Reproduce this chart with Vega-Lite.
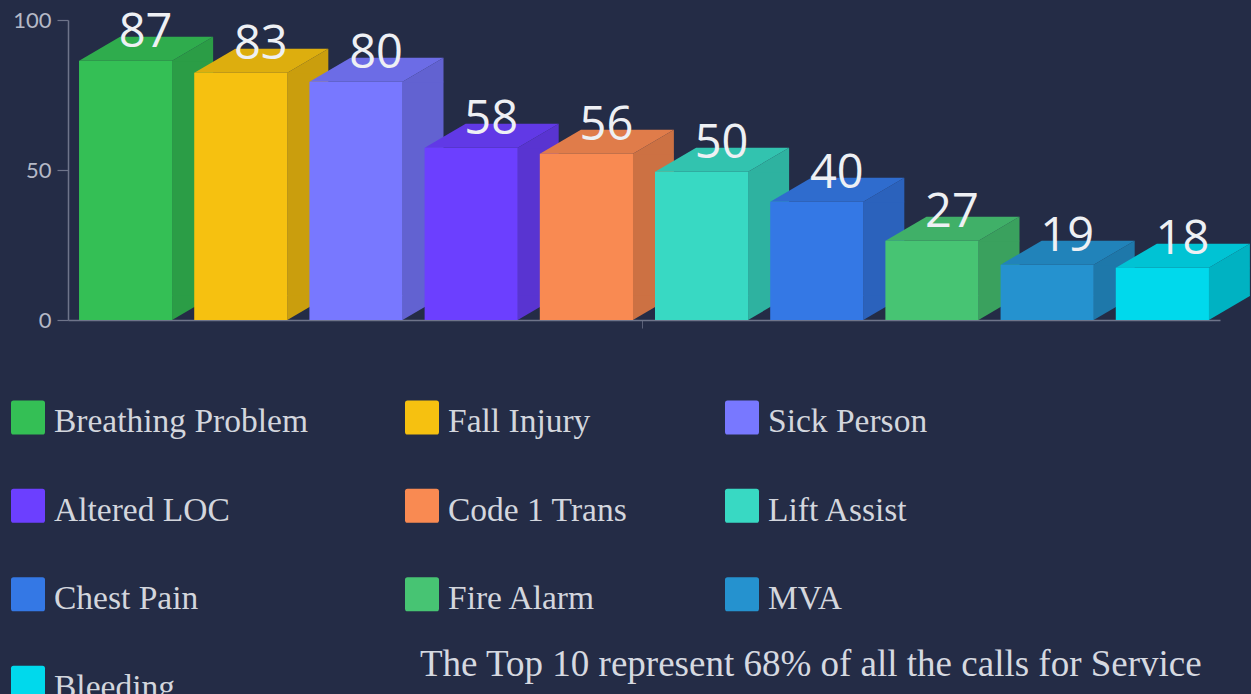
{
"$schema":"https://vega.github.io/schema/vega-lite/v6.json",
"width":1152,"height":300,
"autosize":"none",
"padding":{"left":68,"top":20,"right":31,"bottom":374},
"background":"#242c46",
"view":{"stroke":null},
"title":{"text":"The Top 10 represent 68% of all the calls for Service","orient":"top","anchor":"start","frame":"group","dx":352,"dy":675,"offset":0,"font":"Liberation Serif","fontSize":37,"fontWeight":"normal","color":"#d6d9e0"},
"data":{"values":[
{"name":"Breathing Problem","calls":87},
{"name":"Fall Injury","calls":83},
{"name":"Sick Person","calls":80},
{"name":"Altered LOC","calls":58},
{"name":"Code 1 Trans","calls":56},
{"name":"Lift Assist","calls":50},
{"name":"Chest Pain","calls":40},
{"name":"Fire Alarm","calls":27},
{"name":"MVA","calls":19},
{"name":"Bleeding","calls":18}
]},
"encoding":{
"x":{"field":"name","type":"nominal","sort":null,"title":null,"scale":{"paddingInner":0.191,"paddingOuter":0.0957},
"axis":{"values":["Lift Assist"],"labels":false,"tickOffset":-60,"tickSize":8,"tickColor":"#5a6078","domainColor":"#6e748a","domainWidth":1.5,"grid":false}},
"y":{"field":"calls","type":"quantitative","title":null,"scale":{"domain":[0,100],"nice":false},
"axis":{"values":[0,50,100],"grid":false,"domainColor":"#6e748a","domainWidth":1.5,"tickColor":"#6e748a","tickSize":11,"tickWidth":1.2,"labelFont":"Lato","labelFontSize":22,"labelColor":"#b5b9c6","labelPadding":6}}
},
"layer":[
{"mark":{"type":"bar","size":41,"xOffset":67,"yOffset":1.7,"y2Offset":-24},
"encoding":{"y2":{"datum":0},"color":{"field":"name","type":"nominal","sort":null,"legend":null,"scale":{"range":["#2b9d46","#ca9e0d","#6262d1","#5934d1","#cc7143","#2eb2a0","#2b62bc","#3aa15e","#1e78aa","#00b2c2"]}}}},
{"mark":{"type":"point","shape":"M46.5,2.2L46.5,1.7L87.5,-22.3L87.5,2.2Z","size":4,"filled":true,"opacity":1},
"encoding":{"color":{"field":"name","type":"nominal","sort":null,"legend":null,"scale":{"range":["#2b9d46","#ca9e0d","#6262d1","#5934d1","#cc7143","#2eb2a0","#2b62bc","#3aa15e","#1e78aa","#00b2c2"]}}}},
{"mark":{"type":"point","shape":"M46.5,0L87.5,-24L87.5,-24.5L46.5,-24.5Z","size":4,"filled":true,"opacity":1},
"encoding":{"y":{"datum":0},"color":{"field":"name","type":"nominal","sort":null,"legend":null,"scale":{"range":["#2b9d46","#ca9e0d","#6262d1","#5934d1","#cc7143","#2eb2a0","#2b62bc","#3aa15e","#1e78aa","#00b2c2"]}}}},
{"mark":{"type":"point","shape":"M-46.5,1.7L46.5,1.7L87.5,-22.3L-5.5,-22.3Z","size":4,"filled":true,"opacity":1},
"encoding":{"color":{"field":"name","type":"nominal","sort":null,"legend":null,"scale":{"range":["#2fac4d","#ddae0e","#6c6ce6","#6139e6","#e07c4a","#32c3af","#2f6cce","#40b068","#2183ba","#00c3d4"]}}}},
{"mark":{"type":"bar","yOffset":1.7,"y2Offset":0},
"encoding":{"y2":{"datum":0},"color":{"field":"name","type":"nominal","sort":null,
"scale":{"range":["#34bf55","#f6c110","#7878ff","#6c3fff","#f98a52","#38d9c3","#3478e5","#47c473","#2592cf","#00d9ec"]},
"legend":{"title":null,"orient":"none","legendX":-57,"legendY":385,"direction":"horizontal","columns":3,"columnPadding":97,"rowPadding":49.5,"padding":0,
"symbolType":"M-0.85,-1.28L0.85,-1.28Q1,-1.28 1,-1.13L1,0.57Q1,0.72 0.85,0.72L-0.85,0.72Q-1,0.72 -1,0.57L-1,-1.13Q-1,-1.28 -0.85,-1.28Z","symbolSize":1156,"symbolStrokeWidth":0,"labelFont":"Liberation Serif","labelFontSize":33.5,"labelColor":"#d3d6dd","labelOffset":9,"labelLimit":400}}}},
{"mark":{"type":"text","font":"Open Sans","fontSize":47,"color":"#eef0f4","dx":20,"dy":-12,"baseline":"alphabetic","align":"center"},
"encoding":{"text":{"field":"calls","type":"quantitative"}}}
],
"resolve":{"scale":{"color":"independent"}}
}
